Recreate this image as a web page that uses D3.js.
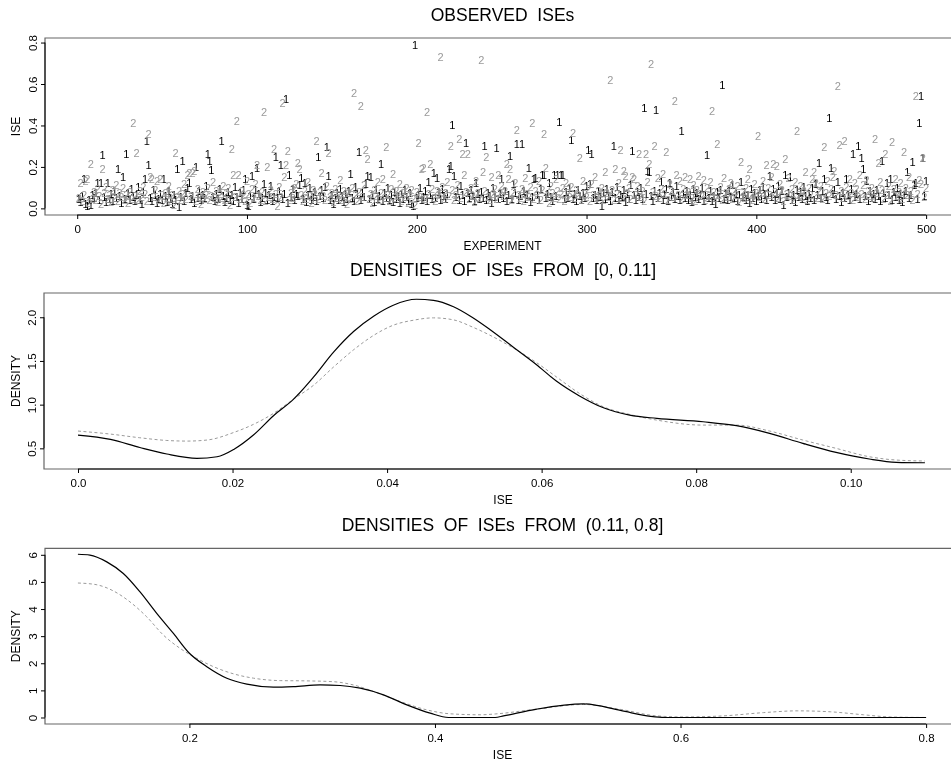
<!DOCTYPE html>
<html>
<head>
<meta charset="utf-8">
<script src="https://cdn.jsdelivr.net/npm/d3@7"></script>
<style>
body { margin: 0; background: #fff; overflow: hidden; }
.gray { filter: grayscale(100%); }
text { font-family: "Liberation Sans", Arial, Helvetica, sans-serif; }
</style>
</head>
<body>
<div id="chart"></div>
<script>
// observed ISE per experiment, in thousandths
var ise1 = [
45,32,58,140,22,12,38,15,62,48, 75,124,41,124,258,55,30,120,44,68,
36,85,52,190,60,28,150,47,263,72, 40,95,55,33,66,101,42,20,78,140,
324,210,50,36,88,63,25,45,70,38, 140,58,30,82,47,21,64,40,190,8,
53,227,36,74,97,124,44,60,27,200, 52,85,39,66,48,110,263,227,183,56,
33,70,45,92,324,61,29,50,78,42, 65,37,104,55,24,72,46,88,140,18,
12,58,155,43,90,196,67,31,52,115, 76,40,62,108,35,57,250,48,82,210,
44,68,527,26,163,53,94,38,71,59, 112,147,45,120,30,64,98,42,56,77,
36,250,60,87,48,105,297,155,40,66, 23,52,74,38,91,57,30,69,45,84,
168,50,35,102,62,270,41,76,55,118, 155,47,150,64,29,88,43,59,216,37,
72,51,96,40,63,32,80,46,58,27, 69,43,88,54,35,74,20,10,790,48,
62,100,40,57,83,34,128,66,45,172, 52,148,78,38,95,61,44,70,190,203,
402,155,56,85,42,110,64,37,313,72, 48,90,58,33,124,67,46,80,52,300,
39,75,60,28,97,55,292,44,68,143, 50,86,35,62,251,47,115,73,308,40,
58,308,82,45,66,196,30,55,143,147, 64,38,92,159,163,49,71,124,57,33,
163,60,159,417,163,159,43,78,52,98, 332,46,67,36,89,58,42,74,51,106,
280,118,260,48,65,38,84,56,12,72, 44,93,60,35,78,300,52,101,41,66,
57,88,32,70,47,112,276,62,39,80, 53,96,44,484,68,180,175,58,36,84,
476,50,73,128,42,63,95,34,120,56, 77,46,110,60,38,375,69,52,86,41,
64,30,92,55,73,45,58,100,37,66, 256,49,82,35,61,20,78,52,90,596,
44,67,38,85,57,113,48,70,33,62, 125,54,79,41,66,28,95,50,72,36,
58,88,45,103,62,38,76,155,53,92, 40,68,110,47,83,15,160,55,74,150,
42,63,31,90,57,78,46,102,60,35, 70,52,97,41,118,64,220,48,85,143,
56,38,437,196,67,88,44,125,59,32, 76,50,140,62,40,92,264,55,71,303,
45,244,190,60,130,37,82,52,68,44, 90,58,35,228,73,48,124,64,140,39,
80,55,98,42,70,30,62,86,175,50, 66,224,112,124,45,410,543,244,58,130
];
var ise2 = [
52,120,35,66,130,143,28,215,47,80, 40,95,58,20,190,72,105,44,63,30,
88,50,112,36,74,55,98,42,65,24, 78,46,410,60,267,38,84,54,102,70,
33,360,150,143,57,90,130,41,143,62, 26,76,48,108,36,64,15,266,53,85,
40,71,118,47,160,170,58,170,180,34, 92,55,22,78,44,66,100,38,59,125,
48,83,30,68,52,110,40,75,97,18, 284,163,56,420,163,45,82,62,35,130,
70,28,94,50,115,210,60,42,78,463, 33,200,57,88,46,287,68,12,104,55,
510,150,210,275,40,73,52,96,118,220, 190,64,36,85,47,126,58,25,90,70,
324,43,80,172,61,38,108,267,54,76, 30,92,49,66,137,41,84,58,22,73,
47,99,556,62,35,80,492,55,114,280, 239,44,70,28,90,58,125,40,76,140,
52,297,66,35,95,168,48,82,60,118, 37,72,54,100,26,64,88,45,14,78,
313,57,190,196,43,463,70,215,92,50, 33,84,62,729,105,46,74,128,58,303,
88,40,66,112,335,52,264,160,78,260, 45,96,60,30,134,72,48,716,175,85,
248,55,38,152,67,92,44,163,74,110, 58,86,216,140,190,40,78,122,380,62,
50,95,34,145,70,56,103,410,47,82, 64,130,38,90,359,196,60,24,110,73,
52,140,86,44,68,98,36,120,75,57, 105,364,48,88,62,244,40,130,70,54,
92,35,115,66,150,48,82,60,100,42, 175,76,55,620,88,38,190,68,120,280,
50,180,155,72,98,44,150,140,64,110, 260,56,85,36,260,125,216,697,78,300,
60,145,48,92,165,70,270,40,118,84, 55,516,160,66,130,45,95,150,62,78,
140,50,112,36,88,155,70,58,135,42, 96,60,125,471,80,48,308,66,104,38,
148,74,55,92,122,44,86,63,110,30, 223,78,52,98,140,190,64,40,115,72,
351,56,88,130,46,207,100,62,150,216, 78,205,50,118,88,35,236,70,145,58,
94,42,125,372,66,108,54,82,175,40, 98,62,140,175,124,50,86,110,45,297,
72,130,58,92,150,180,66,588,305,84, 48,327,105,60,140,76,38,120,92,55,
163,70,112,44,135,82,60,98,50,335, 76,220,128,88,46,260,64,110,36,319,
92,140,58,78,122,44,272,100,66,150, 85,40,118,543,70,135,115,244,55,96
];

// density of ISEs in [0, 0.11]
var lowIse1 = [0,0.0042,0.008,0.0115,0.0154,0.018,0.0202,0.0227,0.0253,0.0279,0.0305,0.0331,0.0357,0.0383,0.0408,0.0438,0.046,0.0486,0.051,0.0533,0.0563,0.0593,0.0619,0.0649,0.068,0.0714,0.0749,0.0809,0.0852,0.0895,0.0938,0.0981,0.1024,0.1059,0.1096];
var lowDens1 = [0.652,0.603,0.51,0.435,0.386,0.404,0.49,0.652,0.873,1.063,1.318,1.604,1.84,2.015,2.138,2.206,2.194,2.12,2.0,1.86,1.66,1.46,1.27,1.10,0.964,0.88,0.843,0.804,0.759,0.671,0.557,0.454,0.378,0.34,0.335];
var lowIse2 = [0,0.0042,0.008,0.0115,0.0141,0.0167,0.0202,0.0227,0.0253,0.0279,0.0305,0.0331,0.0357,0.0383,0.0408,0.0434,0.046,0.0486,0.051,0.0533,0.0563,0.0593,0.0619,0.0649,0.068,0.0714,0.0749,0.0809,0.0852,0.0895,0.0938,0.0981,0.1024,0.1059,0.1096];
var lowDens2 = [0.698,0.663,0.621,0.59,0.583,0.595,0.683,0.774,0.9,1.063,1.223,1.433,1.63,1.795,1.909,1.966,1.993,1.97,1.89,1.795,1.65,1.483,1.318,1.128,0.975,0.888,0.823,0.766,0.766,0.698,0.595,0.5,0.404,0.366,0.355];

// density of ISEs in (0.11, 0.8]
var highIse1 = [0.1092,0.119,0.1327,0.1462,0.1598,0.1734,0.187,0.2,0.2142,0.2305,0.2468,0.2684,0.2847,0.3065,0.3228,0.3391,0.3581,0.3771,0.3961,0.411,0.449,0.4559,0.483,0.521,0.551,0.5756,0.587,0.8];
var highDens1 = [6.02,5.99,5.74,5.31,4.63,3.84,3.10,2.37,1.875,1.45,1.23,1.12,1.14,1.20,1.18,1.08,0.835,0.467,0.16,0,0,0.06,0.31,0.50,0.26,0.04,0,0];
var highIse2 = [0.1092,0.124,0.138,0.1517,0.1653,0.1788,0.1924,0.206,0.2196,0.2359,0.2522,0.2739,0.2957,0.3173,0.3336,0.35,0.3717,0.3934,0.4124,0.4369,0.449,0.483,0.521,0.551,0.5805,0.602,0.635,0.6677,0.695,0.722,0.749,0.771,0.8];
var highDens2 = [4.96,4.90,4.67,4.26,3.71,3.04,2.55,2.18,1.875,1.61,1.45,1.36,1.35,1.32,1.20,0.96,0.59,0.28,0.136,0.10,0.13,0.31,0.48,0.30,0.06,0.02,0.06,0.18,0.245,0.21,0.1,0.02,0];

var expTicks = [0, 100, 200, 300, 400, 500];
var iseTicks = [0, 0.2, 0.4, 0.6, 0.8];
var lowXTicks = [0, 0.02, 0.04, 0.06, 0.08, 0.10];
var lowXLabels = ["0.0", "0.02", "0.04", "0.06", "0.08", "0.10"];
var lowYTicks = [0.5, 1.0, 1.5, 2.0];
var highXTicks = [0.2, 0.4, 0.6, 0.8];
var highYTicks = [0, 1, 2, 3, 4, 5, 6];

var svg = d3.select("#chart")
  .append("svg")
    .attr("width", 951)
    .attr("height", 761)
    .style("display", "block");

svg.append("rect").attr("width", 951).attr("height", 761).attr("fill", "#fff");

// one R-style panel: box, axes with rotated y labels, titles
function panel(o) {
  var g = svg.append("g");
  var x = o.x, y = o.y;
  var top = y.range()[1], bottom = y.range()[0];
  var left = x.range()[0], right = x.range()[1];

  // plot frame; its right side lies past the page edge
  g.append("path")
    .attr("d", "M" + right + "," + top + "H" + left + "V" + bottom + "H" + right)
    .attr("fill", "none").attr("stroke", "#666").attr("stroke-width", 1.2);

  var labels = g.append("g").attr("class", "gray");

  var xa = labels.append("g").attr("transform", "translate(0," + bottom + ")")
    .call(d3.axisBottom(x).tickValues(o.xTicks).tickSize(4).tickSizeOuter(0)
      .tickFormat(function(d, i) { return o.xLabels[i]; }));
  xa.select(".domain").remove();
  xa.append("line")
    .attr("x1", x(o.xTicks[0])).attr("x2", x(o.xTicks[o.xTicks.length - 1]))
    .attr("stroke", "#000");
  xa.selectAll(".tick line").attr("stroke", "#000");
  xa.selectAll(".tick text")
    .attr("y", 14).attr("dy", "0.35em")
    .attr("fill", "#000").style("font-size", "11.5px");

  var ya = labels.append("g").attr("transform", "translate(" + left + ",0)")
    .call(d3.axisLeft(y).tickValues(o.yTicks).tickSize(4).tickSizeOuter(0)
      .tickFormat(o.yFormat));
  ya.select(".domain").remove();
  ya.append("line")
    .attr("y1", y(o.yTicks[0])).attr("y2", y(o.yTicks[o.yTicks.length - 1]))
    .attr("stroke", "#000");
  ya.selectAll(".tick line").attr("stroke", "#000");
  ya.selectAll(".tick text")
    .attr("transform", "rotate(-90)")
    .attr("x", 0).attr("y", -12).attr("dy", "0.35em")
    .attr("text-anchor", "middle")
    .attr("fill", "#000").style("font-size", "11.5px");

  labels.append("text")
    .attr("x", (left + right) / 2).attr("y", bottom + 31).attr("dy", "0.35em")
    .attr("text-anchor", "middle").style("font-size", "12px")
    .text(o.xTitle);

  labels.append("text")
    .attr("transform", "translate(16," + (top + bottom) / 2 + ") rotate(-90)")
    .attr("dy", "0.35em")
    .attr("text-anchor", "middle").style("font-size", "12px")
    .text(o.yTitle);

  labels.append("text")
    .attr("x", (left + right) / 2).attr("y", top - 23).attr("dy", "0.35em")
    .attr("text-anchor", "middle").style("font-size", "17.5px")
    .style("white-space", "pre").attr("xml:space", "preserve")
    .text(o.title);

  return g;
}

// ---- OBSERVED ISEs
var xExp = d3.scaleLinear().domain([-18.96, 519.96]).range([45, 960]);
var yIse = d3.scaleLinear().domain([-0.032, 0.822]).range([215, 38]);

var top1 = panel({
  x: xExp, y: yIse,
  xTicks: expTicks, xLabels: expTicks.map(String),
  yTicks: iseTicks, yFormat: d3.format(".1f"),
  xTitle: "EXPERIMENT", yTitle: "ISE",
  title: "OBSERVED  ISEs"
});

var marks = top1.append("g").attr("class", "gray");

marks.append("g").selectAll("text")
  .data(ise1)
  .join("text")
    .attr("x", function(d, i) { return xExp(i + 1); })
    .attr("y", function(d) { return yIse(d / 1000); })
    .attr("dy", "0.36em")
    .attr("text-anchor", "middle")
    .attr("fill", "#000")
    .style("font-size", "11px")
    .text("1");

marks.append("g").selectAll("text")
  .data(ise2)
  .join("text")
    .attr("x", function(d, i) { return xExp(i + 1); })
    .attr("y", function(d) { return yIse(d / 1000); })
    .attr("dy", "0.36em")
    .attr("text-anchor", "middle")
    .attr("fill", "#9a9a9a")
    .style("font-size", "11px")
    .text("2");

// ---- densities on [0, 0.11]
var xLow = d3.scaleLinear().domain([-0.0044, 0.1144]).range([44, 962]);
var yLow = d3.scaleLinear().domain([0.2635, 2.2776]).range([469, 293]);

var mid = panel({
  x: xLow, y: yLow,
  xTicks: lowXTicks, xLabels: lowXLabels,
  yTicks: lowYTicks, yFormat: d3.format(".1f"),
  xTitle: "ISE", yTitle: "DENSITY",
  title: "DENSITIES  OF  ISEs  FROM  [0, 0.11]"
});

var lineLow = d3.line()
  .x(function(d) { return xLow(d[0]); })
  .y(function(d) { return yLow(d[1]); })
  .curve(d3.curveMonotoneX);

mid.append("path")
  .attr("d", lineLow(d3.zip(lowIse2, lowDens2)))
  .attr("fill", "none").attr("stroke", "#9a9a9a")
  .attr("stroke-width", 1).attr("stroke-dasharray", "3,2.5");
mid.append("path")
  .attr("d", lineLow(d3.zip(lowIse1, lowDens1)))
  .attr("fill", "none").attr("stroke", "#000").attr("stroke-width", 1.2);

// ---- densities on (0.11, 0.8]
var xHigh = d3.scaleLinear().domain([0.0824, 0.8276]).range([45, 960]);
var yHigh = d3.scaleLinear().domain([-0.24, 6.24]).range([724, 548.3]);

var bot = panel({
  x: xHigh, y: yHigh,
  xTicks: highXTicks, xLabels: highXTicks.map(d3.format(".1f")),
  yTicks: highYTicks, yFormat: d3.format("d"),
  xTitle: "ISE", yTitle: "DENSITY",
  title: "DENSITIES  OF  ISEs  FROM  (0.11, 0.8]"
});

var lineHigh = d3.line()
  .x(function(d) { return xHigh(d[0]); })
  .y(function(d) { return yHigh(d[1]); })
  .curve(d3.curveMonotoneX);

bot.append("path")
  .attr("d", lineHigh(d3.zip(highIse2, highDens2)))
  .attr("fill", "none").attr("stroke", "#9a9a9a")
  .attr("stroke-width", 1).attr("stroke-dasharray", "3,2.5");
bot.append("path")
  .attr("d", lineHigh(d3.zip(highIse1, highDens1)))
  .attr("fill", "none").attr("stroke", "#000").attr("stroke-width", 1.2);
</script>
</body>
</html>
